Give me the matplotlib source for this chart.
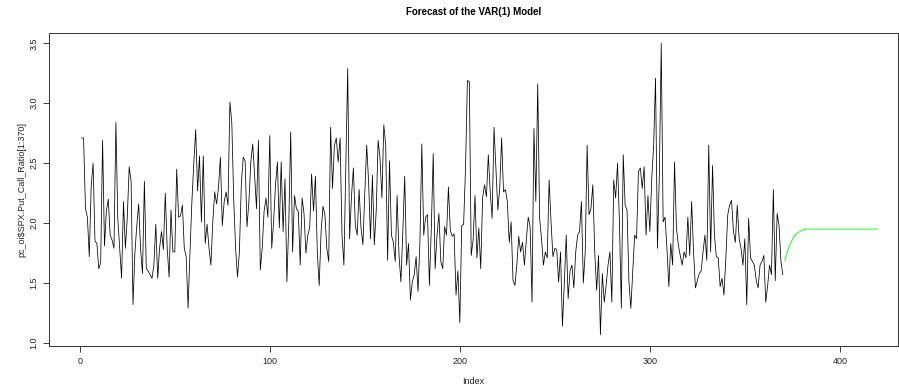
import matplotlib
matplotlib.use("Agg")
import matplotlib.pyplot as plt
import numpy as np

plt.rcParams['font.family'] = ['Liberation Sans', 'DejaVu Sans']

# Observed series pc_oi$SPX.Put_Call_Ratio[1:370]
ratio = [
    2.71, 2.71, 2.12, 2.05, 1.72, 2.31, 2.50, 1.85, 1.83, 1.62,
    1.67, 2.69, 1.81, 2.10, 2.20, 1.90, 1.86, 1.79, 2.84, 2.04,
    1.79, 1.54, 2.18, 1.79, 2.05, 2.47, 2.35, 1.32, 1.75, 1.98,
    2.16, 1.78, 1.58, 2.35, 1.62, 1.60, 1.57, 1.54, 1.65, 1.99,
    1.54, 1.79, 1.93, 1.78, 2.25, 1.79, 1.55, 2.11, 1.76, 1.76,
    2.45, 2.05, 2.06, 2.15, 1.79, 1.72, 1.29, 1.76, 2.18, 2.50,
    2.78, 2.27, 2.56, 2.01, 2.56, 1.83, 1.99, 1.79, 1.65, 2.01,
    2.26, 2.16, 2.30, 2.55, 1.98, 2.18, 2.26, 2.15, 3.01, 2.84,
    2.20, 1.79, 1.55, 1.76, 2.32, 2.55, 2.52, 1.97, 2.18, 2.51,
    2.66, 2.40, 2.12, 2.69, 1.61, 1.79, 2.10, 2.21, 2.05, 2.73,
    1.79, 2.01, 2.32, 2.51, 1.96, 2.51, 1.93, 2.37, 1.51, 2.01,
    2.76, 1.76, 2.23, 2.12, 2.10, 1.65, 2.21, 2.08, 1.75, 1.90,
    1.96, 2.41, 2.10, 2.39, 1.76, 1.48, 1.93, 2.14, 2.07, 1.79,
    1.68, 2.80, 2.29, 2.65, 2.71, 2.51, 2.71, 1.90, 1.65, 2.46,
    3.29, 1.87, 2.23, 2.46, 1.98, 1.90, 2.28, 1.96, 1.82, 2.26,
    2.65, 2.34, 1.87, 2.40, 1.82, 2.10, 2.69, 2.54, 2.21, 2.82,
    2.65, 1.69, 2.52, 1.90, 1.84, 1.68, 2.23, 1.73, 1.51, 1.93,
    2.39, 1.65, 1.83, 1.36, 1.51, 1.57, 1.72, 1.43, 1.84, 2.66,
    1.90, 2.05, 2.07, 1.48, 1.96, 2.58, 1.62, 1.90, 2.08, 1.68,
    1.62, 1.97, 1.90, 2.30, 1.94, 1.89, 1.91, 1.40, 1.60, 1.17,
    1.98, 1.99, 2.46, 3.19, 3.18, 1.73, 1.86, 2.23, 1.71, 1.96,
    1.62, 2.21, 2.32, 2.22, 2.57, 2.26, 2.04, 2.80, 2.46, 2.11,
    2.29, 2.71, 2.26, 2.28, 2.18, 1.84, 2.01, 1.52, 1.48, 1.65,
    1.89, 1.76, 1.84, 1.65, 1.86, 2.05, 1.97, 1.34, 2.79, 2.18,
    3.16, 2.04, 1.87, 1.65, 1.76, 1.71, 2.36, 2.01, 1.72, 1.79,
    1.78, 1.51, 1.76, 1.14, 1.50, 1.90, 1.37, 1.60, 1.65, 1.46,
    1.76, 1.90, 1.93, 2.18, 1.50, 1.76, 2.65, 2.07, 2.12, 2.32,
    1.76, 1.44, 1.73, 1.07, 1.58, 1.34, 1.48, 1.65, 1.76, 1.34,
    2.36, 2.21, 2.50, 2.01, 1.29, 2.57, 2.15, 2.11, 1.51, 1.29,
    1.60, 1.90, 1.87, 2.43, 2.46, 2.29, 2.47, 1.90, 2.23, 1.93,
    2.37, 2.65, 3.21, 1.79, 2.40, 3.50, 2.01, 2.05, 1.79, 1.47,
    1.83, 1.65, 2.51, 1.96, 1.82, 1.73, 1.65, 1.76, 1.71, 2.05,
    1.73, 2.18, 1.76, 1.46, 1.52, 1.58, 1.60, 1.76, 1.90, 1.69,
    2.65, 1.76, 2.48, 1.90, 1.72, 1.71, 1.47, 1.54, 1.40, 1.71,
    2.07, 2.15, 2.19, 1.93, 1.84, 2.15, 1.87, 1.79, 1.65, 1.87,
    1.32, 2.04, 1.71, 1.68, 1.65, 1.52, 1.46, 1.65, 1.68, 1.73,
    1.34, 1.48, 1.65, 1.57, 2.28, 1.52, 2.08, 1.98, 1.68, 1.57,
]

# VAR(1) forecast, steps 371..420
forecast = [
    1.69, 1.74, 1.79, 1.83, 1.86, 1.89, 1.91, 1.92, 1.93, 1.94,
    1.945, 1.948, 1.95, 1.95, 1.95, 1.95, 1.95, 1.95, 1.95, 1.95,
    1.95, 1.95, 1.95, 1.95, 1.95, 1.95, 1.95, 1.95, 1.95, 1.95,
    1.95, 1.95, 1.95, 1.95, 1.95, 1.95, 1.95, 1.95, 1.95, 1.95,
    1.95, 1.95, 1.95, 1.95, 1.95, 1.95, 1.95, 1.95, 1.95, 1.95,
]

x_ticks = [0, 100, 200, 300, 400]
y_ticks = [1.0, 1.5, 2.0, 2.5, 3.0, 3.5]
y_tick_labels = ["1.0", "1.5", "2.0", "2.5", "3.0", "3.5"]

W, H = 899, 388
fig = plt.figure(figsize=(W / 100, H / 100), dpi=100)
L, R, T, B = 49, 898, 33, 346
ax = fig.add_axes([L / W, 1 - B / H, (R - L) / W, (B - T) / H])

idx = np.arange(1, len(ratio) + 1)
fidx = np.arange(len(ratio) + 1, len(ratio) + 1 + len(forecast))
ax.plot(idx, ratio, color='black', lw=0.55)
ax.plot(fidx, forecast, color='#00ff00', lw=0.6)

ax.set_xlim(-16.2, 430.6)
ax.set_ylim(0.975, 3.586)

ax.set_xticks(x_ticks)
ax.set_xticklabels([str(t) for t in x_ticks])
ax.set_yticks(y_ticks)
ax.set_yticklabels(y_tick_labels, rotation=90, va='center')

ax.tick_params(direction='out', length=4.3, width=0.6, labelsize=6.5, pad=3.3,
               colors='#222222')
for s in ax.spines.values():
    s.set_linewidth(0.7)
    s.set_color('#333333')

ax.set_xlabel("Index", fontsize=6.5, color='#222222')
ax.xaxis.set_label_coords(0.5, (B - 381) / (B - T))
ax.set_ylabel("pc_oi$SPX.Put_Call_Ratio[1:370]", fontsize=6.5, color='#222222')
ax.yaxis.set_label_coords((22 - L) / (R - L), 0.5)
ax.xaxis.label.set_va('center')
ax.yaxis.label.set_va('center')

fig.text((L + R) / 2 / W, 1 - 12 / H, "Forecast of the VAR(1) Model",
         ha='center', va='center', fontsize=7, fontweight='bold')

fig.savefig("out.png", dpi=100)
